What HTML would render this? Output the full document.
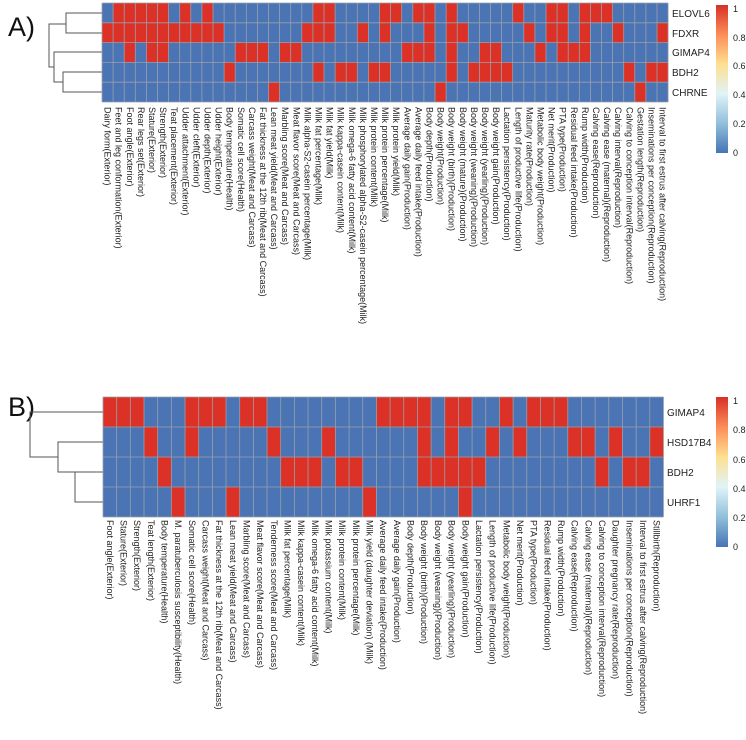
<!DOCTYPE html>
<html><head><meta charset="utf-8"><style>
html,body{margin:0;padding:0;background:#fff;}
svg{display:block;font-family:"Liberation Sans",sans-serif;}
.lab text{font-size:9px;fill:#222;}
.gene{font-size:10px;fill:#222;}
.tick{font-size:9px;fill:#222;}
</style></head><body>
<svg id="s" width="746" height="740" viewBox="0 0 746 740">
<defs>
<linearGradient id="cb" x1="0" y1="1" x2="0" y2="0">
<stop offset="0" stop-color="#4575b4"/><stop offset="0.2" stop-color="#91bfdb"/>
<stop offset="0.4" stop-color="#e0f3f8"/><stop offset="0.6" stop-color="#fee090"/>
<stop offset="0.8" stop-color="#fc8d59"/><stop offset="1" stop-color="#d73027"/>
</linearGradient>
</defs>
<text x="8" y="36" font-size="27" fill="#111">A)</text>
<text x="8" y="416" font-size="27" fill="#111">B)</text>
<g stroke="#555" stroke-width="1" fill="none">
<path d="M102,13 H66 V33 H102"/>
<path d="M66,24 H49 V67 H54"/>
<path d="M102,52 H54 V82 H63"/>
<path d="M102,72 H63 V92 H102"/>
<path d="M103,412 H30 V457 H58"/>
<path d="M103,442 H58 V472 H75"/>
<path d="M103,472 H75 V502 H103"/>
</g>
<g id="hA"></g><g id="hB"></g>
<text class="gene" x="672" y="17">ELOVL6</text>
<text class="gene" x="672" y="37">FDXR</text>
<text class="gene" x="672" y="56">GIMAP4</text>
<text class="gene" x="672" y="76">BDH2</text>
<text class="gene" x="672" y="96">CHRNE</text>
<text class="gene" x="667" y="416">GIMAP4</text>
<text class="gene" x="667" y="446">HSD17B4</text>
<text class="gene" x="667" y="476">BDH2</text>
<text class="gene" x="667" y="506">UHRF1</text>
<rect x="716" y="5" width="12" height="148" fill="url(#cb)"/>
<rect x="716" y="397" width="12" height="150" fill="url(#cb)"/>
<g class="tick">
<text x="733" y="12">1</text><text x="733" y="41">0.8</text><text x="733" y="69">0.6</text>
<text x="733" y="98">0.4</text><text x="733" y="127">0.2</text><text x="733" y="156">0</text>
<text x="733" y="404">1</text><text x="733" y="433">0.8</text><text x="733" y="463">0.6</text>
<text x="733" y="492">0.4</text><text x="733" y="521">0.2</text><text x="733" y="550">0</text>
</g>
<g class="lab" id="lA">
<text>Dairy form(Exterior)</text><text>Feet and leg conformation(Exterior)</text><text>Foot angle(Exterior)</text><text>Rear legs set(Exterior)</text><text>Stature(Exterior)</text><text>Strength(Exterior)</text><text>Teat placement(Exterior)</text><text>Udder attachment(Exterior)</text><text>Udder cleft(Exterior)</text><text>Udder depth(Exterior)</text><text>Udder height(Exterior)</text><text>Body temperature(Health)</text><text>Somatic cell score(Health)</text><text>Carcass weight(Meat and Carcass)</text><text>Fat thickness at the 12th rib(Meat and Carcass)</text><text>Lean meat yield(Meat and Carcass)</text><text>Marbling score(Meat and Carcass)</text><text>Meat flavor score(Meat and Carcass)</text><text>Milk alpha-S2-casein percentage(Milk)</text><text>Milk fat percentage(Milk)</text><text>Milk fat yield(Milk)</text><text>Milk kappa-casein content(Milk)</text><text>Milk omega-6 fatty acid content(Milk)</text><text>Milk phosphorylated alpha-S2-casein percentage(Milk)</text><text>Milk protein content(Milk)</text><text>Milk protein percentage(Milk)</text><text>Milk protein yield(Milk)</text><text>Average daily gain(Production)</text><text>Average daily feed intake(Production)</text><text>Body depth(Production)</text><text>Body weight(Production)</text><text>Body weight (birth)(Production)</text><text>Body weight (mature)(Production)</text><text>Body weight (weaning)(Production)</text><text>Body weight (yearling)(Production)</text><text>Body weight gain(Production)</text><text>Lactation persistency(Production)</text><text>Length of productive life(Production)</text><text>Maturity rate(Production)</text><text>Metabolic body weight(Production)</text><text>Net merit(Production)</text><text>PTA type(Production)</text><text>Residual feed intake(Production)</text><text>Rump width(Production)</text><text>Calving ease(Reproduction)</text><text>Calving ease (maternal)(Reproduction)</text><text>Calving interval(Reproduction)</text><text>Calving to conception interval(Reproduction)</text><text>Gestation length(Reproduction)</text><text>Inseminations per conception(Reproduction)</text><text>Interval to first estrus after calving(Reproduction)</text>
</g>
<g class="lab" id="lB">
<text>Foot angle(Exterior)</text><text>Stature(Exterior)</text><text>Strength(Exterior)</text><text>Teat length(Exterior)</text><text>Body temperature(Health)</text><text>M. paratuberculosis susceptibility(Health)</text><text>Somatic cell score(Health)</text><text>Carcass weight(Meat and Carcass)</text><text>Fat thickness at the 12th rib(Meat and Carcass)</text><text>Lean meat yield(Meat and Carcass)</text><text>Marbling score(Meat and Carcass)</text><text>Meat flavor score(Meat and Carcass)</text><text>Tenderness score(Meat and Carcass)</text><text>Milk fat percentage(Milk)</text><text>Milk kappa-casein content(Milk)</text><text>Milk omega-6 fatty acid content(Milk)</text><text>Milk potassium content(Milk)</text><text>Milk protein content(Milk)</text><text>Milk protein percentage(Milk)</text><text>Milk yield (daughter deviation) (Milk)</text><text>Average daily feed intake(Production)</text><text>Average daily gain(Production)</text><text>Body depth(Production)</text><text>Body weight (birth)(Production)</text><text>Body weight (weaning)(Production)</text><text>Body weight (yearling)(Production)</text><text>Body weight gain(Production)</text><text>Lactation persistency(Production)</text><text>Length of productive life(Production)</text><text>Metabolic body weight(Production)</text><text>Net merit(Production)</text><text>PTA type(Production)</text><text>Residual feed intake(Production)</text><text>Rump width(Production)</text><text>Calving ease(Reproduction)</text><text>Calving ease (maternal)(Reproduction)</text><text>Calving to conception interval(Reproduction)</text><text>Daughter pregnancy rate(Reproduction)</text><text>Inseminations per conception(Reproduction)</text><text>Interval to first estrus after calving(Reproduction)</text><text>Stillbirth(Reproduction)</text>
</g>
</svg>
<script>
(function(){
var NS="http://www.w3.org/2000/svg";
function R(x){return Array.from({length:x[1]-x[0]+1},function(_,i){return x[0]+i;});}
function heat(g,x0,y0,cw,rh,nc,rows){
  var el=document.getElementById(g),h="";
  h+='<rect x="'+x0+'" y="'+y0+'" width="'+(cw*nc)+'" height="'+(rh*rows.length)+'" fill="#4a74b4"/>';
  rows.forEach(function(r,ri){r.forEach(function(c){
    h+='<rect x="'+(x0+cw*c)+'" y="'+(y0+rh*ri)+'" width="'+cw+'" height="'+rh+'" fill="#dc3127"/>';});});
  for(var c=0;c<=nc;c++)h+='<line x1="'+(x0+cw*c)+'" y1="'+y0+'" x2="'+(x0+cw*c)+'" y2="'+(y0+rh*rows.length)+'" stroke="#9aa0aa" stroke-width="0.8"/>';
  for(var r=0;r<=rows.length;r++)h+='<line x1="'+x0+'" y1="'+(y0+rh*r)+'" x2="'+(x0+cw*nc)+'" y2="'+(y0+rh*r)+'" stroke="#9aa0aa" stroke-width="0.8"/>';
  el.innerHTML=h;
}
heat("hA",102,3,11.1,19.8,51,[
 [1,2,3,4,5,7,9,19,20,25,26,28,29,31,37,40,41,43,44,45],
 R([0,10]).concat([18,19,20,23,25,29,31,32,38,40,41,43,46,50]),
 [2,4,5,12,13,14,16,17,27,28,29,31,34,35,39,41,42,43],
 [11,19,21,22,24,25,31,33,34,35,36,47,49,50],
 [15,30,48]]);
heat("hB",103,397,13.67,30,41,[
 [0,1,2,6,7,8,10,11,20,21,22,23,25,26,29,31,32,33],
 [3,6,12,16,23,25,28,30,34,35,37,40],
 [4,13,14,15,17,18,23,24,25,26,27,36,38,39],
 [5,9,19,26]]);
function lab(id,x0,cw,y){
  var t=document.getElementById(id).getElementsByTagName("text");
  for(var i=0;i<t.length;i++){var x=x0+cw*i+cw/2-3;
    t[i].setAttribute("transform","translate("+x+","+y+") rotate(90)");}
}
lab("lA",102,11.1,107);
lab("lB",103,13.67,520);
})();
</script>
</body></html>
